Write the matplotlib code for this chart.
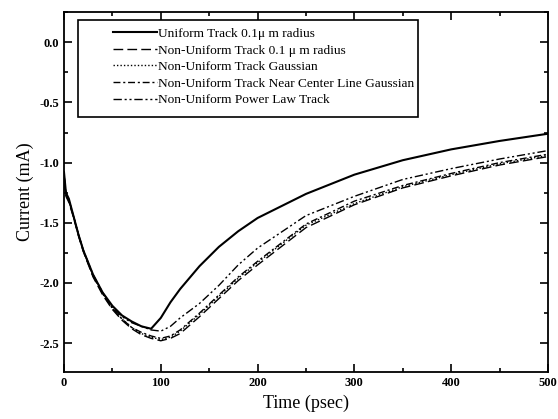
import matplotlib
matplotlib.use("Agg")
import matplotlib.pyplot as plt
from matplotlib.patches import Rectangle
from matplotlib.ticker import MultipleLocator, FormatStrFormatter

plt.rcParams["font.family"] = ["Liberation Serif", "DejaVu Serif"]

# time axis (psec), shared by all series
time_ps = [0, 2, 5, 10, 15, 20, 30, 40, 50, 60, 70, 80, 90, 100, 110, 120,
           140, 160, 180, 200, 250, 300, 350, 400, 450, 500]

uniform_01 = [-1.08, -1.25, -1.30, -1.45, -1.60, -1.73, -1.93, -2.08, -2.19, -2.27,
              -2.32, -2.36, -2.38, -2.29, -2.16, -2.05, -1.86, -1.70, -1.57, -1.46,
              -1.26, -1.10, -0.98, -0.89, -0.82, -0.76]
nonuniform_01 = [-1.15, -1.28, -1.33, -1.46, -1.61, -1.74, -1.95, -2.10, -2.22, -2.31,
                 -2.38, -2.43, -2.46, -2.48, -2.46, -2.42, -2.28, -2.13, -1.98, -1.85,
                 -1.54, -1.35, -1.21, -1.11, -1.02, -0.95]
nonuniform_gauss = [-1.12, -1.27, -1.32, -1.45, -1.60, -1.73, -1.94, -2.09, -2.21, -2.30,
                    -2.37, -2.42, -2.45, -2.47, -2.45, -2.40, -2.26, -2.11, -1.96, -1.83,
                    -1.52, -1.34, -1.20, -1.10, -1.01, -0.94]
near_center_gauss = [-1.10, -1.26, -1.31, -1.45, -1.60, -1.73, -1.94, -2.09, -2.21, -2.30,
                     -2.37, -2.41, -2.44, -2.46, -2.44, -2.39, -2.25, -2.10, -1.95, -1.82,
                     -1.51, -1.32, -1.19, -1.09, -1.00, -0.93]
power_law = [-1.10, -1.26, -1.31, -1.45, -1.60, -1.73, -1.93, -2.08, -2.20, -2.28,
             -2.33, -2.36, -2.39, -2.40, -2.36, -2.29, -2.17, -2.02, -1.85, -1.71,
             -1.44, -1.28, -1.14, -1.05, -0.97, -0.90]

labels = [
    "Uniform Track 0.1\u03bc m radius",
    "Non-Uniform Track 0.1 \u03bc m radius",
    "Non-Uniform Track Gaussian",
    "Non-Uniform Track Near Center Line Gaussian",
    "Non-Uniform Power Law Track",
]

fig = plt.figure(figsize=(5.58, 4.19), dpi=100)
ax = fig.add_axes([0.1147, 0.112, 0.8673, 0.859])

ax.plot(time_ps, uniform_01, color="black", linewidth=1.5, label=labels[0])
ax.plot(time_ps, nonuniform_01, color="black", linewidth=1.0,
        linestyle=(0, (7, 3)), label=labels[1])
ax.plot(time_ps, nonuniform_gauss, color="black", linewidth=1.0,
        linestyle=(0, (1, 1.5)), label=labels[2])
ax.plot(time_ps, near_center_gauss, color="black", linewidth=1.0,
        linestyle=(0, (5, 2, 1.5, 2)), label=labels[3])
ax.plot(time_ps, power_law, color="black", linewidth=1.0,
        linestyle=(0, (6, 2, 1.5, 2, 1.5, 2)), label=labels[4])

ax.set_xlim(0, 500)
ax.set_ylim(-2.74, 0.25)
ax.xaxis.set_major_locator(MultipleLocator(100))
ax.xaxis.set_minor_locator(MultipleLocator(50))
ax.yaxis.set_major_locator(MultipleLocator(0.5))
ax.yaxis.set_minor_locator(MultipleLocator(0.25))
ax.yaxis.set_major_formatter(FormatStrFormatter("%.1f"))
ax.tick_params(which="both", direction="in", top=True, right=True, width=1.2)
ax.tick_params(which="major", length=6, labelsize=9)
ax.tick_params(which="minor", length=3)
for label in ax.get_xticklabels() + ax.get_yticklabels():
    label.set_fontweight("bold")
for spine in ax.spines.values():
    spine.set_linewidth(1.3)

ax.set_xlabel("Time (psec)", fontsize=13)
ax.set_ylabel("Current (mA)", fontsize=13)

# Origin-style legend: handles sit well inside a plain box
ax.add_patch(Rectangle((0.029, 0.708), 0.703, 0.270, transform=ax.transAxes,
                       fill=False, edgecolor="black", linewidth=1.2, zorder=5))
ax.legend(loc="upper left", bbox_to_anchor=(0.101, 0.957), fontsize=9.6,
          handlelength=3.3, handletextpad=0.05, labelspacing=0.32,
          borderpad=0, borderaxespad=0, frameon=False)

fig.savefig("out.png")
